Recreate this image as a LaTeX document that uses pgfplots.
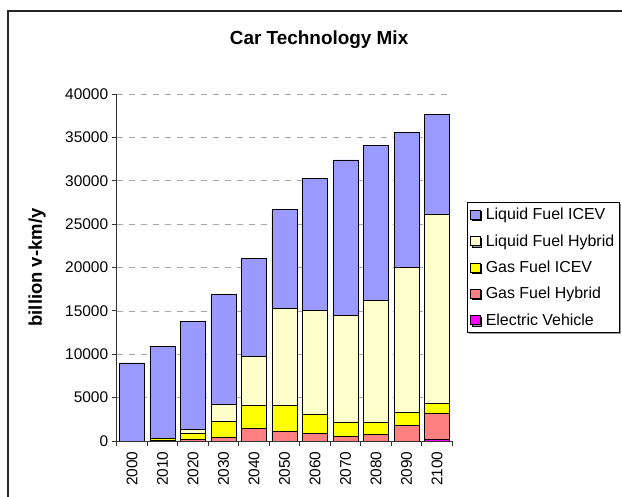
\documentclass[border=0pt]{standalone}
\usepackage{fontspec}
\setmainfont{Liberation Sans}
\usepackage{pgfplots}
\pgfplotsset{compat=1.18}
\usetikzlibrary{shadows}
\definecolor{liqicev}{HTML}{9999FF}
\definecolor{liqhyb}{HTML}{FFFFCC}
\definecolor{gasicev}{HTML}{FFFF00}
\definecolor{gashyb}{HTML}{FF8080}
\definecolor{ev}{HTML}{FF00FF}
\begin{document}
\begin{tikzpicture}
\useasboundingbox (0,0) rectangle (622bp,497bp);
\draw[line width=1.3bp, black!85] (8bp,0) -- (8bp,486bp) -- (622bp,486bp);
\begin{axis}[
  at={(116.7bp,56bp)}, anchor=south west,
  scale only axis, width=335.6bp, height=347bp,
  ybar stacked, bar width=0.82,
  xmin=-0.5, xmax=10.5, ymin=0, ymax=40000,
  axis lines*=left,
  axis line style={black!80, line width=0.9bp},
  xtick={0,...,10},
  xticklabels={2000,2010,2020,2030,2040,2050,2060,2070,2080,2090,2100},
  major x tick style={draw=none},
  minor xtick={-0.5,0.5,...,10.5},
  minor x tick style={black!80, line width=0.8bp},
  ytick={0,5000,...,40000},
  y tick style={black!80, line width=0.8bp},
  tick align=outside,
  major tick length=5bp, minor tick length=5bp,
  ymajorgrids,
  major grid style={gray!70, dash pattern=on 6bp off 6bp, line width=0.7bp},
  scaled y ticks=false,
  /pgf/number format/assume math mode=true,
  /pgf/number format/set thousands separator={},
  tick label style={font=\fontsize{15.5}{18}\selectfont},
  xticklabel style={rotate=90, anchor=east, xshift=-2bp},
  ylabel={\textbf{billion v-km/y}},
  every axis y label/.style={at={(axis description cs:-0.2375,0.5)}, rotate=90, anchor=center, font=\fontsize{18.5}{20}\selectfont},
  title={Car Technology Mix},
  title style={at={(axis description cs:0.603,1.138)}, anchor=center, font=\bfseries\fontsize{19}{22}\selectfont},
  legend image code/.code={\draw[#1, draw=black, line width=0.8bp] (0bp,-4.5bp) rectangle (9.5bp,4.5bp);},
  reverse legend,
  legend style={at={(1.044,0.689)}, anchor=north west, draw=black, line width=0.8bp,
    font=\fontsize{16}{19}\selectfont, row sep=9.3bp, inner xsep=3bp, inner ysep=4bp,
    drop shadow={opacity=1, fill=gray!80, shadow xshift=1.5bp, shadow yshift=-1.5bp},
    /tikz/every even column/.append style={column sep=0bp}},
  legend cell align=left,
  every axis plot/.append style={draw=black, line width=0.8bp},
]
\addplot[fill=ev, draw=black] coordinates {(0,0) (1,0) (2,0) (3,0) (4,0) (5,0) (6,0) (7,0) (8,0) (9,0) (10,150)};
\addplot[fill=gashyb, draw=black] coordinates {(0,0) (1,100) (2,150) (3,450) (4,1400) (5,1150) (6,850) (7,550) (8,800) (9,1800) (10,3000)};
\addplot[fill=gasicev, draw=black] coordinates {(0,0) (1,150) (2,700) (3,1800) (4,2650) (5,2900) (6,2200) (7,1600) (8,1350) (9,1450) (10,1200)};
\addplot[fill=liqhyb, draw=black] coordinates {(0,0) (1,0) (2,450) (3,1950) (4,5650) (5,11200) (6,12050) (7,12300) (8,14000) (9,16800) (10,21800)};
\addplot[fill=liqicev, draw=black] coordinates {(0,9000) (1,10650) (2,12500) (3,12650) (4,11300) (5,11400) (6,15150) (7,17950) (8,17900) (9,15550) (10,11500)};
\legend{\hspace{3bp}Electric Vehicle, \hspace{3bp}Gas Fuel Hybrid, \hspace{3bp}Gas Fuel ICEV, \hspace{3bp}Liquid Fuel Hybrid, \hspace{3bp}Liquid Fuel ICEV}
\end{axis}
\end{tikzpicture}
\end{document}
